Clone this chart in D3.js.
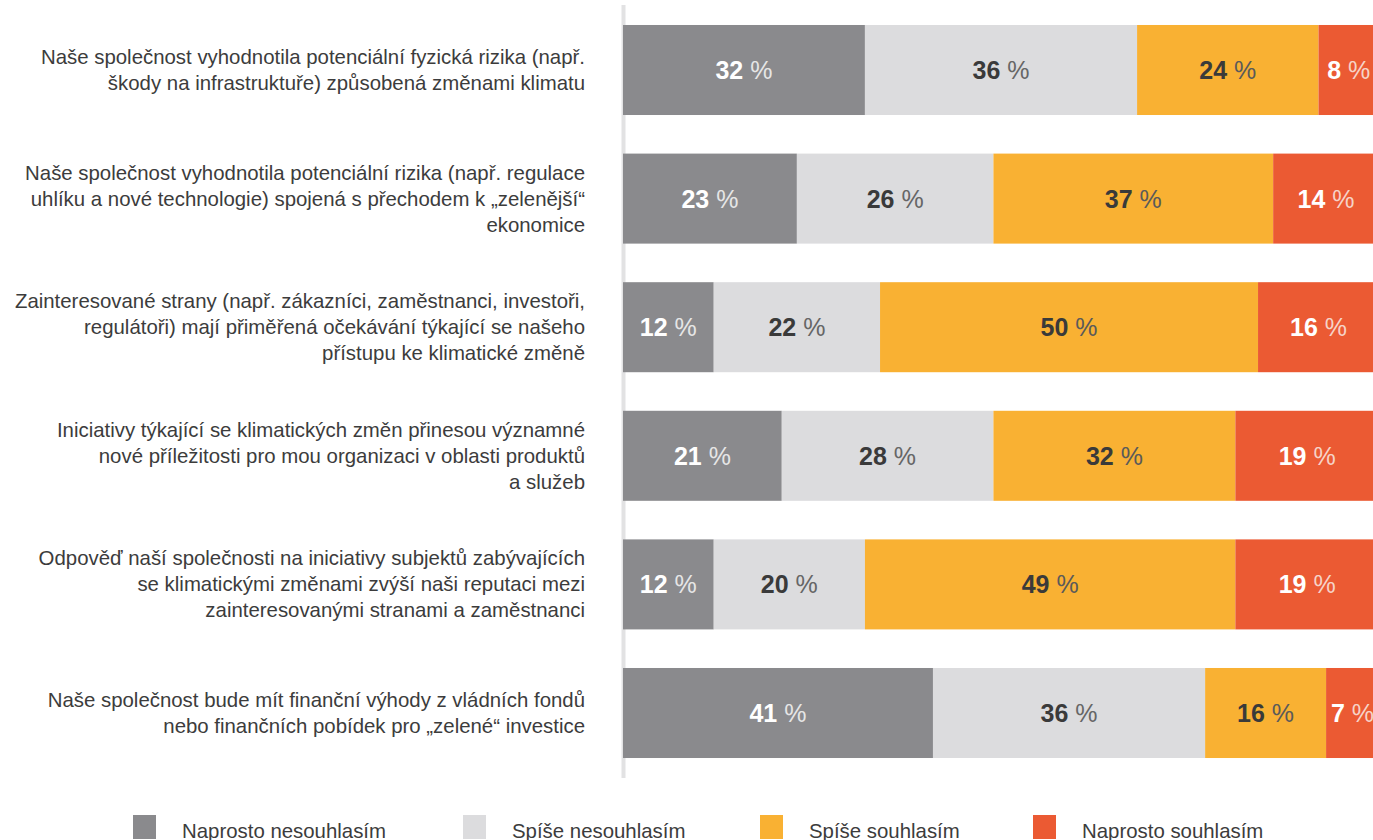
<!DOCTYPE html>
<html><head><meta charset="utf-8">
<script src="https://cdn.jsdelivr.net/npm/d3@7"></script>
<style>html,body{margin:0;padding:0;background:#fff;overflow:hidden}</style>
</head><body>
<svg id="c" width="1373" height="840"></svg>
<script>
const categories = [
  ["Naše společnost vyhodnotila potenciální fyzická rizika (např.", "škody na infrastruktuře) způsobená změnami klimatu"],
  ["Naše společnost vyhodnotila potenciální rizika (např. regulace", "uhlíku a nové technologie) spojená s přechodem k „zelenější“", "ekonomice"],
  ["Zainteresované strany (např. zákazníci, zaměstnanci, investoři,", "regulátoři) mají přiměřená očekávání týkající se našeho", "přístupu ke klimatické změně"],
  ["Iniciativy týkající se klimatických změn přinesou významné", "nové příležitosti pro mou organizaci v oblasti produktů", "a služeb"],
  ["Odpověď naší společnosti na iniciativy subjektů zabývajících", "se klimatickými změnami zvýší naši reputaci mezi", "zainteresovanými stranami a zaměstnanci"],
  ["Naše společnost bude mít finanční výhody z vládních fondů", "nebo finančních pobídek pro „zelené“ investice"]
];
const seriesNames = ["Naprosto nesouhlasím", "Spíše nesouhlasím", "Spíše souhlasím", "Naprosto souhlasím"];
const naprostoNesouhlasim = [32, 23, 12, 21, 12, 41];
const spiseNesouhlasim   = [36, 26, 22, 28, 20, 36];
const spiseSouhlasim     = [24, 37, 50, 32, 49, 16];
const naprostoSouhlasim  = [8, 14, 16, 19, 19, 7];
const colors = ["#8a8a8d", "#dcdcde", "#f9b133", "#eb5a33"];
const numColors = ["#ffffff", "#3a3a3a", "#3a3a3a", "#ffffff"];
const pctColors = ["#e6e6e6", "#666666", "#5a5a5a", "#f6d3c8"];

const series = [naprostoNesouhlasim, spiseNesouhlasim, spiseSouhlasim, naprostoSouhlasim];
const rows = categories.map((c, i) => {
  const o = {idx: i};
  seriesNames.forEach((s, j) => o[s] = series[j][i]);
  return o;
});
const stacked = d3.stack().keys(seriesNames)(rows);

const svg = d3.select("#c");
const font = "'Liberation Sans', Arial, Helvetica, sans-serif";
const x = d3.scaleLinear().domain([0, 100]).range([623, 1379]);
const y = d3.scaleBand().domain(d3.range(categories.length)).range([5.7, 777.3]).paddingInner(0.3).paddingOuter(0.15);

// vertical axis line
svg.append("line").attr("x1", 623.5).attr("x2", 623.5).attr("y1", 5).attr("y2", 778)
  .attr("stroke", "#e2e2e3").attr("stroke-width", 4);

const g = svg.append("g");
stacked.forEach((layer, j) => {
  const lg = g.append("g");
  lg.selectAll("rect").data(layer).join("rect")
    .attr("x", d => x(d[0])).attr("width", d => x(d[1]) - x(d[0]))
    .attr("y", (d, i) => y(i)).attr("height", y.bandwidth())
    .attr("fill", colors[j]);
  const t = lg.selectAll("text").data(layer).join("text")
    .attr("x", d => (x(d[0]) + x(d[1])) / 2)
    .attr("y", (d, i) => y(i) + y.bandwidth() / 2 + 9)
    .attr("text-anchor", "middle")
    .style("font-family", font).style("font-size", "25px");
  t.append("tspan").attr("font-weight", "bold").attr("fill", numColors[j]).text(d => d[1] - d[0]);
  t.append("tspan").attr("fill", pctColors[j]).text(" %");
});

// category labels
categories.forEach((lines, i) => {
  const cy = y(i) + y.bandwidth() / 2;
  const lh = 26;
  const t = svg.append("text").attr("text-anchor", "end")
    .style("font-family", font).style("font-size", "20.4px").attr("fill", "#3c3c3c");
  lines.forEach((l, k) => {
    t.append("tspan").attr("x", 585).attr("y", cy + (k - (lines.length - 1) / 2) * lh + 7).text(l);
  });
});

// legend
const legX = [133, 463, 760, 1033];
seriesNames.forEach((s, j) => {
  svg.append("rect").attr("x", legX[j]).attr("y", 815).attr("width", 23).attr("height", 24).attr("fill", colors[j]);
  svg.append("text").attr("x", legX[j] + 49).attr("y", 838)
    .style("font-family", font).style("font-size", "20.4px").attr("fill", "#3c3c3c").text(s);
});
</script>
</body></html>
